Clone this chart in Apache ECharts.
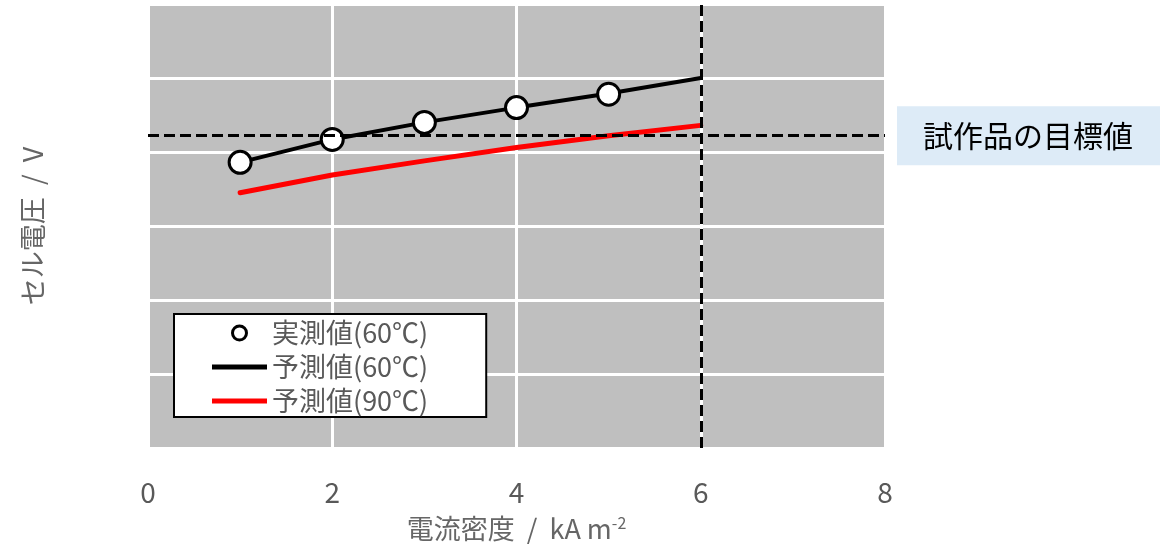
<!DOCTYPE html>
<html>
<head>
<meta charset="utf-8">
<script src="https://cdn.jsdelivr.net/npm/echarts@6/dist/echarts.min.js"></script>
<style>
  html, body { margin: 0; padding: 0; background: #fff; }
  #chart { width: 1160px; height: 547px; }
</style>
</head>
<body>
<div id="chart"></div>
<script>
// 電流密度 (kA m-2)
const xMeasured = [1, 2, 3, 4, 5];
const vMeasured60 = [3.86, 4.17, 4.40, 4.60, 4.78];
const xPredicted = [1, 2, 3, 4, 5, 6];
const vPredicted60 = [3.86, 4.17, 4.40, 4.60, 4.79, 5.00];
const vPredicted90 = [3.45, 3.69, 3.88, 4.06, 4.22, 4.36];
const targetVoltage = 4.22;   // 試作品の目標値
const limitCurrent = 6;
const xTicks = [0, 8, 2];     // min, max, interval
const yTicks = [0, 6, 1];

const seriesNames = ["実測値(60℃)", "予測値(60℃)", "予測値(90℃)"];

const pairs = (xs, ys) => xs.map((x, i) => [x, ys[i]]);

const chart = echarts.init(document.getElementById("chart"));
chart.setOption({
  animation: false,
  textStyle: { fontFamily: "Noto Sans CJK JP" },
  grid: {
    left: 148,
    right: 275,
    top: 4,
    bottom: 99,
    outerBoundsMode: "none",
    containLabel: false,
    show: true,
    backgroundColor: "#bfbfbf",
    borderWidth: 0
  },
  legend: {
    orient: "vertical",
    left: 174,
    top: 314,
    backgroundColor: "#fff",
    borderColor: "#000",
    borderWidth: 2,
    borderRadius: 0,
    padding: [5, 58, 2, 38],
    itemGap: 6,
    itemWidth: 55,
    itemHeight: 14,
    itemTextGap: 5,
    textStyle: { color: "#595959", fontSize: 27, lineHeight: 28 },
    data: [
      { name: seriesNames[0], icon: "circle",
        itemStyle: { color: "#fff", borderColor: "#000", borderWidth: 3 } },
      { name: seriesNames[1], icon: "path://M0,0H55V5H0Z", itemStyle: { color: "#000" } },
      { name: seriesNames[2], icon: "path://M0,0H55V5H0Z", itemStyle: { color: "#ff0000" } }
    ]
  },
  xAxis: {
    type: "value",
    min: xTicks[0],
    max: xTicks[1],
    interval: xTicks[2],
    axisLine: { show: false },
    axisTick: { show: false },
    axisLabel: { color: "#595959", fontSize: 28, margin: 30 },
    splitLine: { show: true, lineStyle: { color: "#fff", width: 3 } },
    name: "電流密度  /  kA m{sup|-2}",
    nameLocation: "middle",
    nameGap: 67,
    nameTextStyle: {
      color: "#666", fontSize: 27,
      rich: { sup: { color: "#666", fontSize: 16, verticalAlign: "top", padding: [0, 0, 12, 0] } }
    }
  },
  yAxis: {
    type: "value",
    min: yTicks[0],
    max: yTicks[1],
    interval: yTicks[2],
    axisLine: { show: false },
    axisTick: { show: false },
    axisLabel: { show: false },
    splitLine: { show: true, lineStyle: { color: "#fff", width: 3 } },
    name: "セル電圧  /  V",
    nameLocation: "middle",
    nameGap: 102,
    nameTextStyle: { color: "#666", fontSize: 27 }
  },
  series: [
    {
      name: seriesNames[2],
      type: "line",
      z: 2,
      symbol: "none",
      lineStyle: { color: "#ff0000", width: 5, cap: "round" },
      itemStyle: { color: "#ff0000" },
      data: pairs(xPredicted, vPredicted90),
      markLine: {
        silent: true,
        symbol: "none",
        animation: false,
        lineStyle: { color: "#000", width: 3, type: [11, 5] },
        label: { show: false },
        data: [
          [
            { coord: [xTicks[0], targetVoltage] },
            {
              coord: [xTicks[1], targetVoltage],
              label: {
                show: true,
                position: "end",
                distance: 12,
                formatter: "試作品の目標値",
                color: "#000",
                fontSize: 30,
                lineHeight: 30,
                backgroundColor: "#ddebf7",
                padding: [14, 27, 15, 26]
              }
            }
          ],
          { xAxis: limitCurrent }
        ]
      }
    },
    {
      name: seriesNames[1],
      type: "line",
      z: 3,
      symbol: "none",
      lineStyle: { color: "#000", width: 4 },
      itemStyle: { color: "#000" },
      data: pairs(xPredicted, vPredicted60)
    },
    {
      name: seriesNames[0],
      type: "scatter",
      z: 4,
      symbol: "circle",
      symbolSize: 22,
      itemStyle: { color: "#fff", borderColor: "#000", borderWidth: 3, opacity: 1 },
      data: pairs(xMeasured, vMeasured60)
    }
  ]
});
</script>
</body>
</html>
